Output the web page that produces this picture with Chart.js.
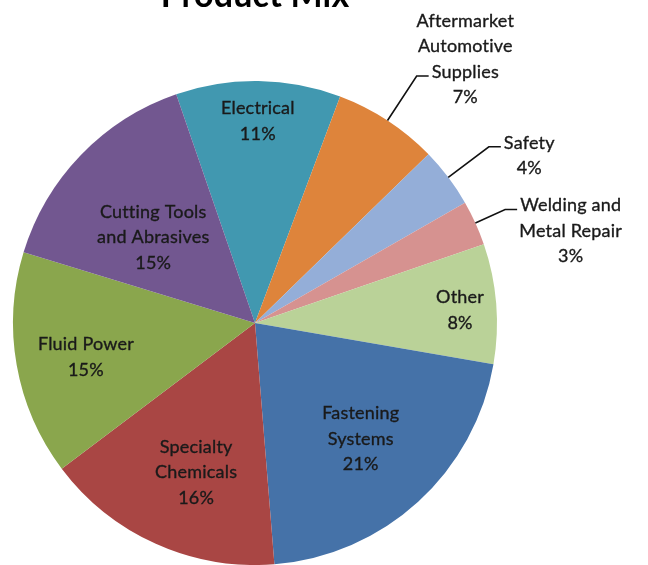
<!DOCTYPE html>
<html>
<head>
<meta charset="utf-8">
<script src="https://cdn.jsdelivr.net/npm/chart.js@4/dist/chart.umd.min.js"></script>
<style>
  body { margin: 0; background: #fff; }
  #wrap { width: 648px; height: 565px; position: relative; }
</style>
</head>
<body>
<div id="wrap"><canvas id="myChart"></canvas></div>
<script>
// data, clockwise starting from Electrical
const categories = ['Electrical', 'Aftermarket Automotive Supplies', 'Safety', 'Welding and Metal Repair',
  'Other', 'Fastening Systems', 'Specialty Chemicals', 'Fluid Power', 'Cutting Tools and Abrasives'];
const labelLines = [['Electrical'], ['Aftermarket', 'Automotive', 'Supplies'], ['Safety'],
  ['Welding and', 'Metal Repair'], ['Other'], ['Fastening', 'Systems'], ['Specialty', 'Chemicals'],
  ['Fluid Power'], ['Cutting Tools', 'and Abrasives']];
const shares = [11, 7, 4, 3, 8, 21, 16, 15, 15];

const colors = ['#4198b0', '#de843b', '#94aed8', '#d69290', '#bad298', '#4572a8', '#a94644', '#8aa64d', '#725790'];

// label placement: r = fraction of radius, da = angle nudge (deg), leader = outside w/ line
const labelPlace = [
  {r: 0.833, da: 0}, {r: 1.22, leader: true, anchor: 2}, {r: 1.21, leader: true, anchor: 0},
  {r: 1.135, leader: true, anchor: 0}, {r: 0.849, da: 1}, {r: 0.648, da: 0},
  {r: 0.664, da: -2.7}, {r: 0.713, da: -1.5}, {r: 0.549, da: -4}
];

const FONT = '18px Lato';
const LH = 25.5;

function txt(ctx, t, x, y) {
  ctx.fillText(t, x, y);
  ctx.strokeText(t, x, y);
}

const labelPlugin = {
  id: 'pieLabels',
  afterDatasetsDraw(chart) {
    const ctx = chart.ctx;
    const meta = chart.getDatasetMeta(0);
    ctx.save();
    ctx.font = FONT;
    if ('letterSpacing' in ctx) ctx.letterSpacing = '0.2px'; // also stops the "ti" ligature
    ctx.fillStyle = '#1a1a1a';
    ctx.textBaseline = 'middle';
    ctx.textAlign = 'center';
    meta.data.forEach((arc, i) => {
      const p = arc.getProps(['x', 'y', 'startAngle', 'endAngle', 'outerRadius'], true);
      const place = labelPlace[i];
      const lines = labelLines[i].concat([shares[i] + '%']);
      const mid = (p.startAngle + p.endAngle) / 2 + (place.da || 0) * Math.PI / 180;
      const cos = Math.cos(mid), sin = Math.sin(mid);
      if (!place.leader) {
        const cx = p.x + cos * p.outerRadius * place.r;
        const cy = p.y + sin * p.outerRadius * place.r;
        const top = cy - (lines.length - 1) * LH / 2;
        ctx.strokeStyle = '#1a1a1a';
        ctx.lineWidth = 0.35;
        lines.forEach((t, j) => txt(ctx, t, cx, top + j * LH));
      } else {
        const ex = p.x + cos * p.outerRadius, ey = p.y + sin * p.outerRadius;
        const kx = p.x + cos * p.outerRadius * place.r, ky = p.y + sin * p.outerRadius * place.r;
        ctx.strokeStyle = '#111';
        ctx.lineWidth = 1.6;
        ctx.beginPath();
        ctx.moveTo(ex, ey);
        ctx.lineTo(kx, ky);
        ctx.lineTo(kx + 12, ky);
        ctx.stroke();
        const k = place.anchor;
        const left = kx + 15;
        const bx = left + ctx.measureText(lines[k]).width / 2;
        ctx.strokeStyle = '#1a1a1a';
        ctx.lineWidth = 0.35;
        lines.forEach((t, j) => txt(ctx, t, bx, ky - 4 + (j - k) * LH));
      }
    });
    // title, partly cut off at top like the source
    ctx.font = 'bold 34px Lato';
    ctx.fillStyle = '#000';
    ctx.textBaseline = 'alphabetic';
    ctx.fillText('Product Mix', 255, 7);
    ctx.restore();
  }
};

const ctx = document.getElementById('myChart').getContext('2d');
const myChart = new Chart(ctx, {
  type: 'pie',
  data: {
    labels: categories,
    datasets: [{
      data: shares,
      backgroundColor: colors,
      borderWidth: 0
    }]
  },
  options: {
    responsive: true,
    maintainAspectRatio: false,
    animation: false,
    rotation: -19,
    layout: { padding: { left: 13, right: 151, top: 81, bottom: 0 } },
    plugins: {
      legend: { display: false },
      tooltip: { enabled: false },
      title: { display: false }
    }
  },
  plugins: [labelPlugin]
});
</script>
</body>
</html>
